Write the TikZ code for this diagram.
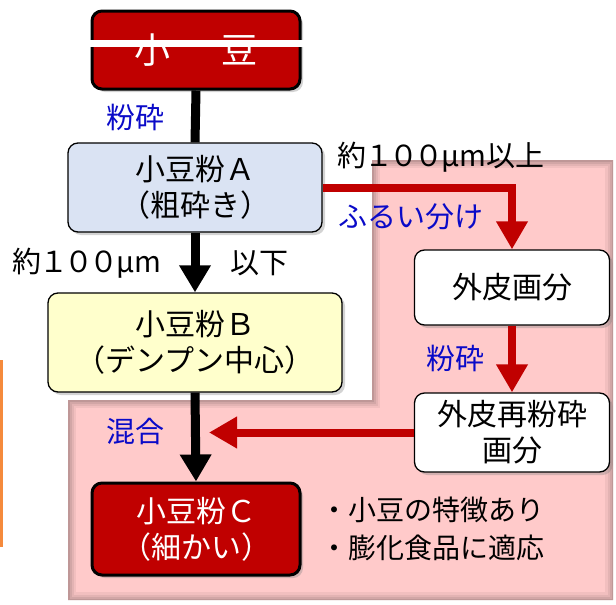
\documentclass[tikz,border=0pt]{standalone}
\usepackage{fontspec}
\setmainfont{Noto Sans CJK JP}
\usetikzlibrary{arrows.meta,shadows}
\definecolor{dred}{HTML}{C00000}
\definecolor{pinkbg}{HTML}{FFCACA}
\definecolor{lblue}{HTML}{DAE3F3}
\definecolor{lyellow}{HTML}{FFFFCC}
\definecolor{lbltxt}{HTML}{0A0AC8}
\definecolor{orng}{HTML}{F58A3C}
\newcommand{\hundred}{\hspace{-2pt}１\hspace{-4pt}０\hspace{-4pt}０\hspace{-2pt}}
\tikzset{
 box/.style={rounded corners=10pt, draw=black, line width=1.3pt, align=center,
   font=\fontsize{30}{36}\selectfont, inner sep=0pt,
   drop shadow={shadow xshift=3pt,shadow yshift=-3pt,opacity=0.35}},
 redbox/.style={box, fill=dred, text=white, line width=3pt},
 lbl/.style={font=\fontsize{29}{34}\selectfont, inner sep=0pt},
 bl/.style={lbl, text=lbltxt},
 blk/.style={line width=9pt, black},
 blkarr/.style={blk, -{Triangle[width=30pt,length=27pt]}},
 redarr/.style={line width=8pt, dred, -{Triangle[width=30pt,length=28pt]}},
}
\begin{document}
\begin{tikzpicture}[x=1pt,y=-1pt]
\useasboundingbox (0,0) rectangle (616,605);
% pink background region
\def\pinkpath{(68,400) -- (372,400) -- (372,160) -- (613,160) -- (613,600) -- (68,600) -- cycle}
\fill[pinkbg] \pinkpath;
\begin{scope}
 \clip \pinkpath;
 \foreach \w/\o in {16/0.05,11/0.06,7/0.07,3/0.09}
   \draw[black, opacity=\o, line width=\w pt] \pinkpath;
\end{scope}
% orange edge line
\draw[orng, line width=2.5pt] (1.5,360) -- (1.5,547);

% nodes
\node[redbox, minimum width=208pt, minimum height=78pt, font=\fontsize{36}{40}\selectfont] (bean) at (196,50) {小\hspace{52pt}豆};
\draw[white, line width=7pt] ([xshift=-4pt,yshift=7pt]bean.west) -- ([xshift=4pt,yshift=7pt]bean.east);
\node[box, fill=lblue, minimum width=254pt, minimum height=89pt] (A) at (195,187.5) {小豆粉Ａ\\（粗砕き）};
\node[box, fill=lyellow, minimum width=294pt, minimum height=99pt] (B) at (195,342.5) {小豆粉Ｂ\\（デンプン中心）};
\node[redbox, minimum width=208pt, minimum height=92pt] (C) at (196,529) {小豆粉Ｃ\\（細かい）};
\node[box, fill=white, minimum width=195pt, minimum height=75pt] (skin1) at (512,287.5) {外皮画分};
\node[box, fill=white, minimum width=195pt, minimum height=79pt] (skin2) at (512,432.5) {外皮再粉砕\\画分};
\coordinate (mix) at (209,432.5);

% connectors
\draw[blk] (bean.south) -- (A.north);
\draw[blkarr] (A.south) -- (B.north);
\draw[blkarr] (B.south) -- (C.north);
\draw[redarr] (A.east) -| (skin1.north);
\draw[redarr] (skin1.south) -- (skin2.north);
\draw[redarr] (skin2.west) -- (mix);

% labels
\node[bl] (l1) at (135,117) {粉砕};
\node[lbl] (l2) at (87,263) {約\hundred μm};
\node[lbl] (l3) at (259,263) {以下};
\node[lbl] (l4) at (441,157) {約\hundred μm以上};
\node[bl] (l5) at (411,217) {ふるい分け};
\node[bl] (l6) at (455,358) {粉砕};
\node[bl] (l7) at (135,432) {混合};
\node[lbl, anchor=west, align=left, font=\fontsize{28}{38}\selectfont] (l8) at (320,529) {・小豆の特徴あり\\・膨化食品に適応};
\end{tikzpicture}
\end{document}
